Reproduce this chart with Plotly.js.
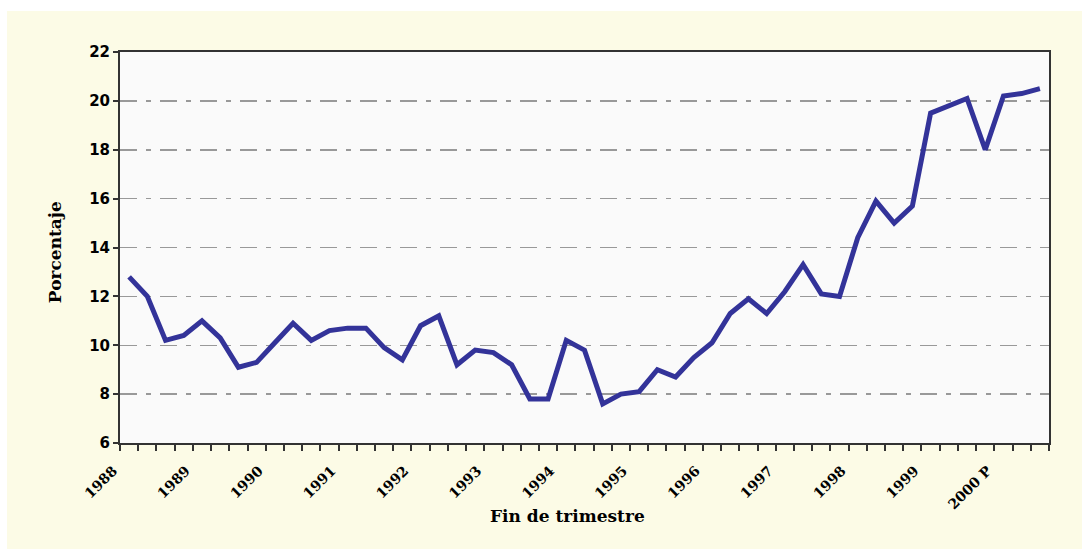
<!DOCTYPE html>
<html>
<head>
<meta charset="utf-8">
<script src="https://cdn.plot.ly/plotly-3.0.1.min.js"></script>
<style>
  html, body { margin: 0; padding: 0; background: #ffffff; width: 1082px; height: 554px; overflow: hidden; }
  #chart { position: absolute; left: 7px; top: 11px; width: 1075px; height: 538px; }
</style>
</head>
<body>
<div id="chart"></div>
<script>
// Quarters 1988 T1 .. 2000 T3
const years = [1988, 1989, 1990, 1991, 1992, 1993, 1994, 1995, 1996, 1997, 1998, 1999, 2000];
const quarterNames = ["T1", "T2", "T3", "T4"];
const yearLabels = ["1988", "1989", "1990", "1991", "1992", "1993", "1994", "1995", "1996", "1997", "1998", "1999", "2000 P"];

const values = [
  12.8, 12.0, 10.2, 10.4,
  11.0, 10.3, 9.1, 9.3,
  10.1, 10.9, 10.2, 10.6,
  10.7, 10.7, 9.9, 9.4,
  10.8, 11.2, 9.2, 9.8,
  9.7, 9.2, 7.8, 7.8,
  10.2, 9.8, 7.6, 8.0,
  8.1, 9.0, 8.7, 9.5,
  10.1, 11.3, 11.9, 11.3,
  12.2, 13.3, 12.1, 12.0,
  14.4, 15.9, 15.0, 15.7,
  19.5, 19.8, 20.1, 18.0,
  20.2, 20.3, 20.5
];

const yTicks = [6, 8, 10, 12, 14, 16, 18, 20, 22];
const xTitle = "Fin de trimestre";
const yTitle = "Porcentaje";

const categories = [];
years.forEach(y => quarterNames.forEach(q => categories.push(y + " " + q)));
const cats = categories.slice(0, values.length);

const tickText = cats.map((c, i) => (i % 4 === 0 ? yearLabels[i / 4] : ""));

const trace = {
  x: cats,
  y: values,
  type: "scatter",
  mode: "lines",
  line: { color: "#333399", width: 5 },
  hoverinfo: "x+y"
};

const titleFont = { family: "DejaVu Serif, serif", size: 17, color: "#000000", weight: "bold" };

const layout = {
  width: 1075,
  height: 538,
  paper_bgcolor: "#FCFBE6",
  plot_bgcolor: "#FAFAFA",
  margin: { l: 113, r: 33, t: 41, b: 106 },
  showlegend: false,
  xaxis: {
    type: "category",
    tickvals: cats,
    ticktext: tickText,
    tickson: "boundaries",
    ticks: "outside",
    ticklen: 6,
    tickwidth: 2,
    tickcolor: "#333333",
    tickangle: -45,
    ticklabelshift: -16,
    ticklabelstandoff: 12,
    tickfont: { family: "DejaVu Serif, serif", size: 14, color: "#000000", weight: "bold" },
    showgrid: false,
    showline: true,
    linecolor: "#333333",
    linewidth: 2,
    mirror: true,
    zeroline: false,
    range: [-0.5, cats.length - 0.5]
  },
  yaxis: {
    range: [6, 22],
    tickvals: yTicks,
    ticktext: yTicks.map(String),
    ticks: "outside",
    ticklen: 5,
    tickwidth: 2,
    tickcolor: "#333333",
    tickfont: { family: "DejaVu Sans, sans-serif", size: 15, color: "#000000", weight: "bold" },
    showgrid: true,
    gridcolor: "#999999",
    gridwidth: 1.5,
    griddash: "17px,9px,5px,9px",
    showline: true,
    linecolor: "#333333",
    linewidth: 2,
    mirror: true,
    zeroline: false
  },
  annotations: [
    {
      text: xTitle, xref: "paper", yref: "paper",
      x: 0.482, y: -0.187, xanchor: "center", yanchor: "middle",
      showarrow: false, font: titleFont
    },
    {
      text: yTitle, xref: "paper", yref: "paper",
      x: -0.07, y: 0.488, xanchor: "center", yanchor: "middle",
      textangle: -90, showarrow: false, font: titleFont
    }
  ]
};

Plotly.newPlot("chart", [trace], layout, { displayModeBar: false, staticPlot: true });
</script>
</body>
</html>
